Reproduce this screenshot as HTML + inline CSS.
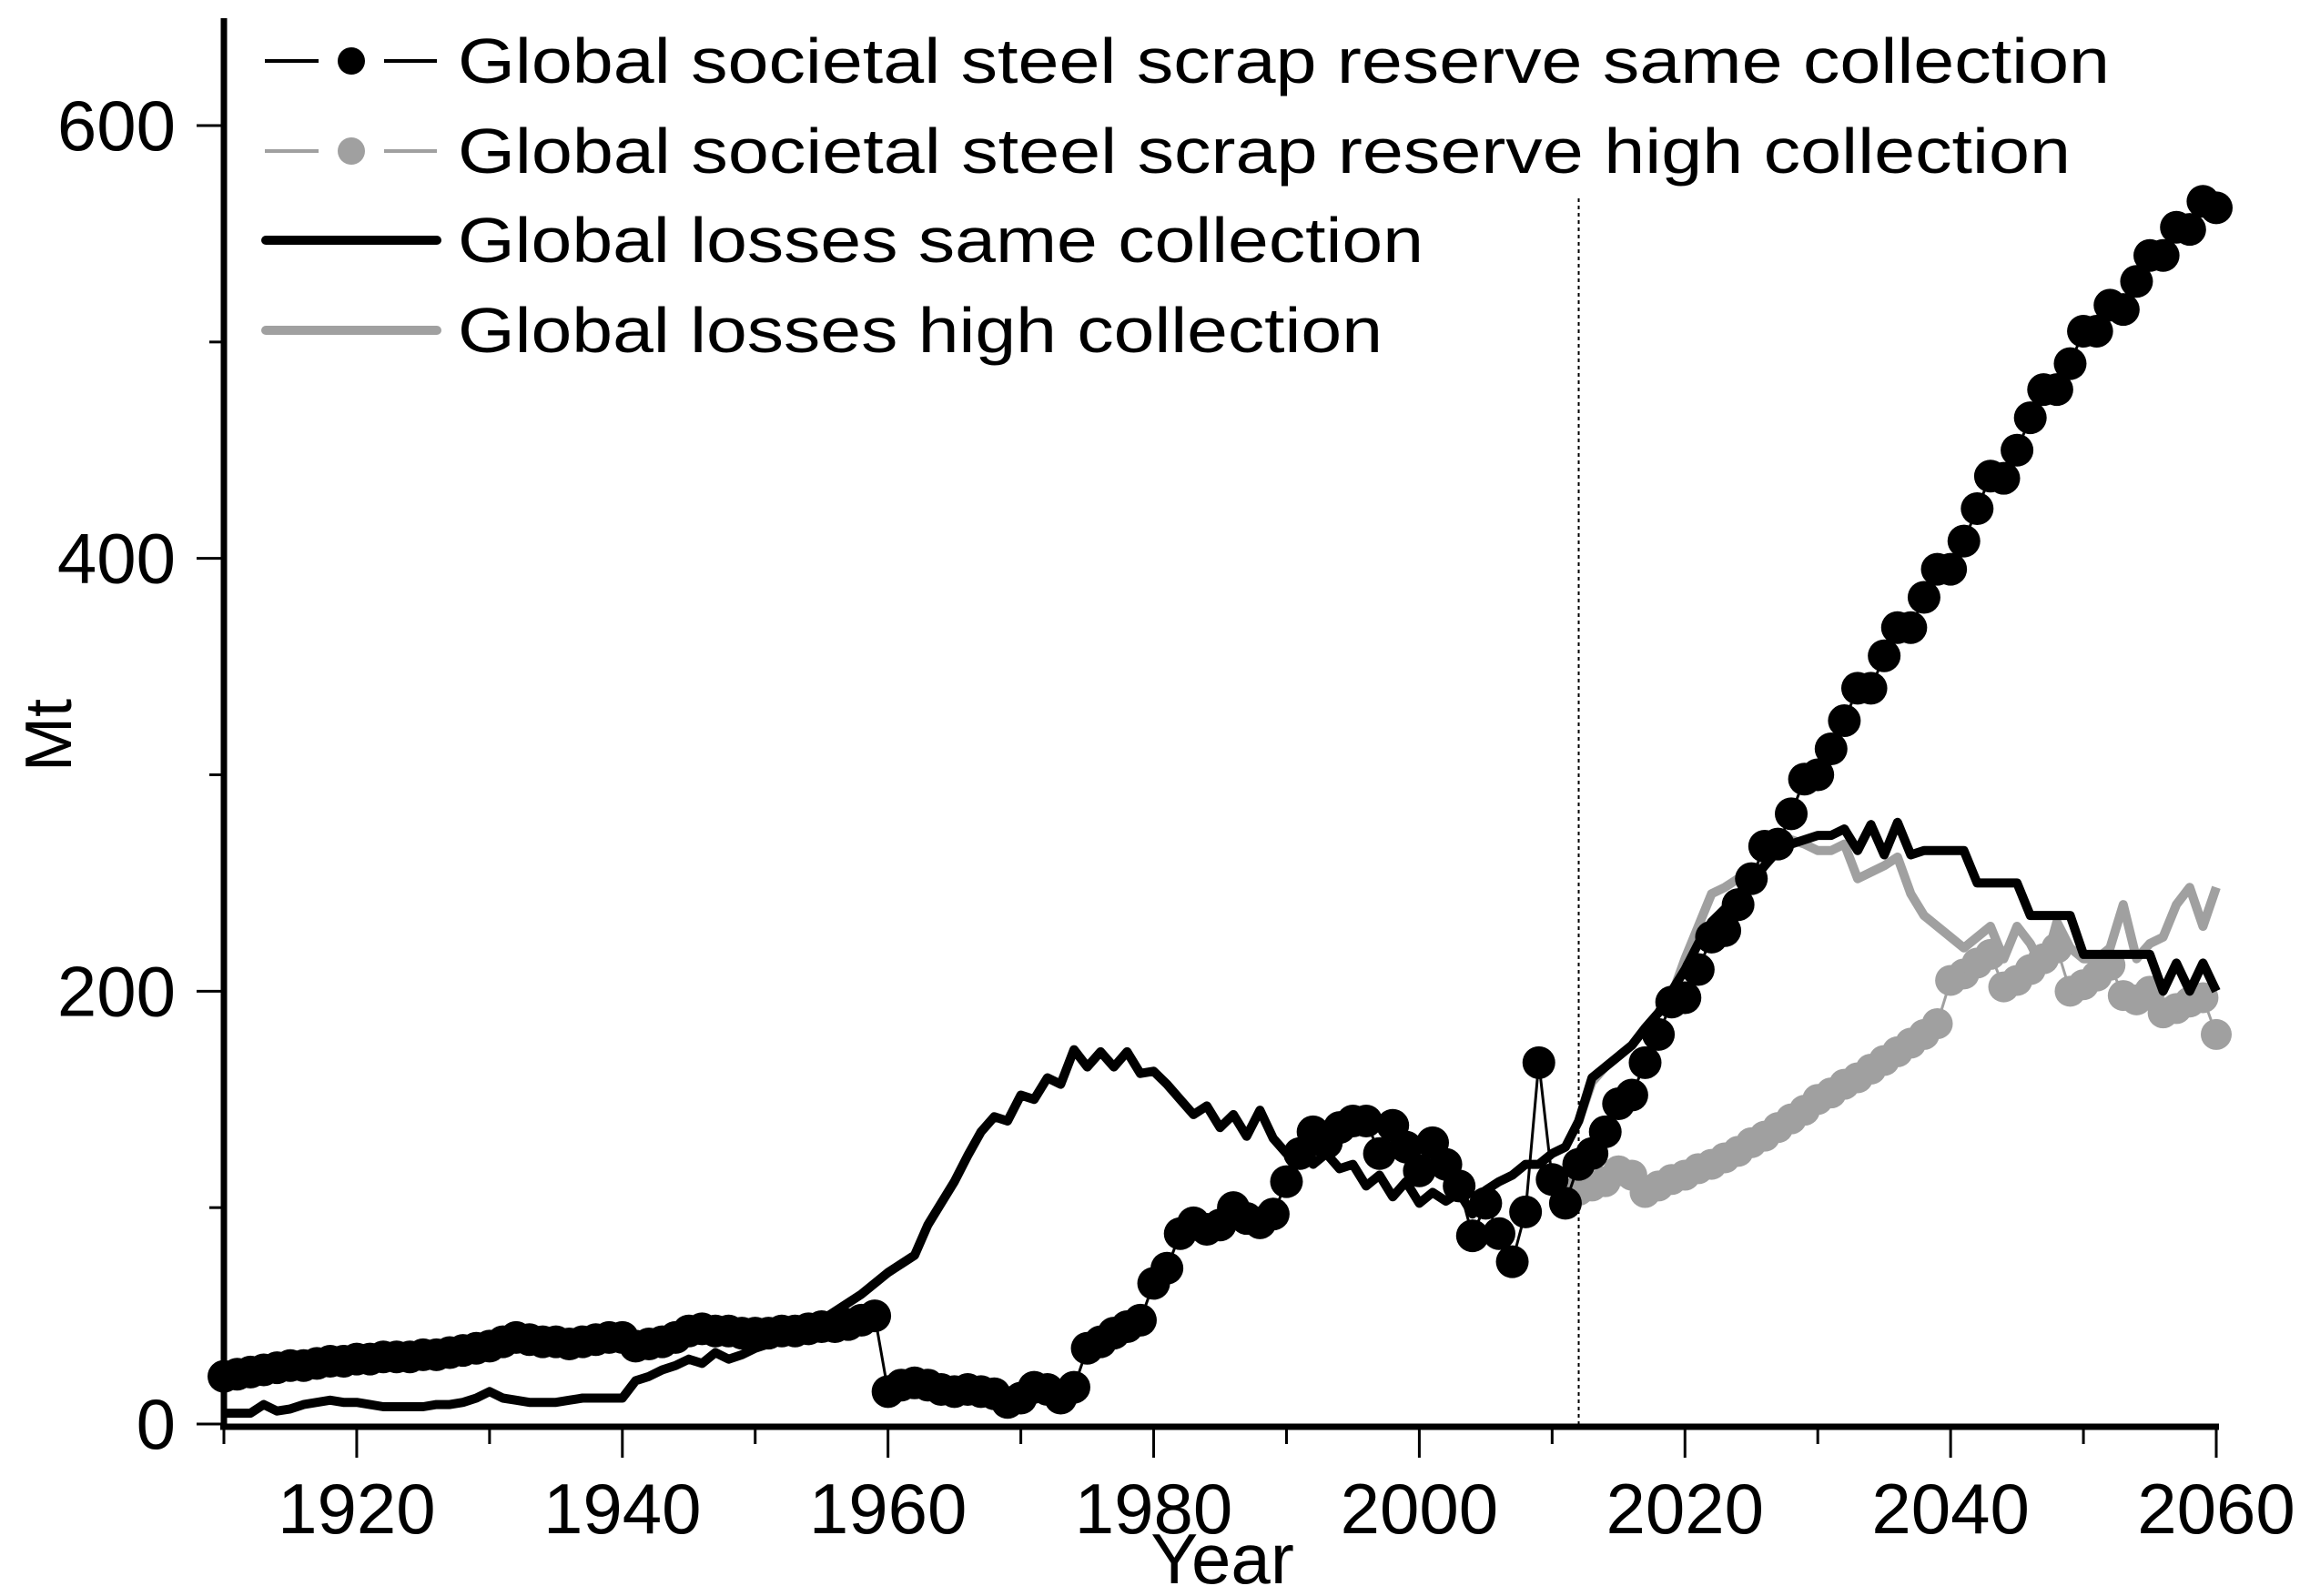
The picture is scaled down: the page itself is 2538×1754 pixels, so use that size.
<!DOCTYPE html>
<html><head><meta charset="utf-8"><style>
html,body{margin:0;padding:0;background:#fff}
svg{display:block;font-family:"Liberation Sans",Arial,sans-serif}
</style></head><body>
<svg id="chart" width="2538" height="1754" viewBox="0 0 2538 1754" xmlns="http://www.w3.org/2000/svg">
<g id="plot"></g>
</svg>
<script>
const years1 = [];for(let y=1910;y<=2060;y++)years1.push(y);
const reserveSame = [22,23,24,25,26,27,27,28,29,29,30,30,31,31,31,32,32,33,34,35,36,38,40,39,38,38,37,38,39,40,40,36,37,38,40,43,44,43,43,42,42,42,43,43,44,45,45,46,48,50,15,18,19,18,16,15,16,15,14,10,12,17,16,12,17,35,38,42,45,48,65,72,88,93,90,92,100,95,93,97,112,125,135,130,137,140,140,125,138,128,117,130,120,110,87,102,88,75,98,167,113,102,120,125,135,148,152,167,180,195,197,210,225,228,240,252,267,268,282,298,300,312,325,340,340,355,368,368,382,395,395,408,423,438,437,450,465,478,478,490,505,505,517,515,528,540,540,553,552,565,562];
const years2 = [];for(let y=2012;y<=2060;y++)years2.push(y);
const reserveHigh = [108,110,112,117,115,107,110,113,115,118,120,123,126,130,133,137,141,145,150,153,157,160,164,168,172,176,180,185,205,208,213,217,202,205,210,215,220,200,203,207,212,198,196,200,190,192,195,197,180];
const lossesSame = [5,5,5,9,6,7,9,10,11,10,10,9,8,8,8,8,9,9,10,12,15,12,11,10,10,10,11,12,12,12,12,20,22,25,27,30,28,33,30,32,35,37,40,42,44,48,52,56,60,65,70,74,78,92,102,112,124,135,142,140,152,150,160,157,173,165,172,165,172,162,163,157,150,143,147,137,143,133,145,132,125,128,120,125,118,120,110,115,105,112,102,107,103,107,97,108,112,115,120,120,125,128,140,160,165,170,175,183,190,200,210,222,232,238,245,250,258,265,268,270,272,272,275,265,277,263,278,263,265,265,265,265,250,250,250,250,235,235,235,235,217,217,217,217,217,217,200,213,200,213,200];
const lossesHigh = [140,158,165,170,175,183,190,198,215,230,245,248,252,255,258,265,270,268,265,265,268,252,255,258,262,245,235,230,225,220,225,230,215,230,222,210,232,220,215,215,220,240,215,222,225,240,248,230,248];
const yTicks = [0,200,400,600];
const xTicks = [1920,1940,1960,1980,2000,2020,2040,2060];

const NS="http://www.w3.org/2000/svg";
const X0=246, X1=2435, Y0=1565, PPV=2.3783;
const xs = y => X0+(y-1910)*(X1-X0)/150;
const ys = v => Y0-v*PPV;
const plot=document.getElementById('plot');
function mk(tag,attrs,parent){const e=document.createElementNS(NS,tag);for(const k in attrs)e.setAttribute(k,attrs[k]);(parent||plot).appendChild(e);return e;}
function pts(xa,va){return xa.map((y,i)=>xs(y).toFixed(1)+','+ys(va[i]).toFixed(1)).join(' ');}

let e=mk('line',{x1:xs(2012),x2:xs(2012),y1:218,y2:Y0,stroke:'#000','stroke-width':2,'stroke-dasharray':'4 4'});



e=mk('polyline',{points:pts(years2,lossesHigh),fill:'none',stroke:'#a0a0a0','stroke-width':10,'stroke-linejoin':'round'});


e=mk('polyline',{points:pts(years2,reserveHigh),fill:'none',stroke:'#a0a0a0','stroke-width':3});


const gH=mk('g',{fill:'#a0a0a0'});


years2.forEach((y,i)=>{const c=mk('circle',{cx:xs(y),cy:ys(reserveHigh[i]),r:17},gH);

});
e=mk('polyline',{points:pts(years1,lossesSame),fill:'none',stroke:'#000','stroke-width':10,'stroke-linejoin':'round'});


e=mk('polyline',{points:pts(years1,reserveSame),fill:'none',stroke:'#000','stroke-width':3});


const gS=mk('g',{fill:'#000'});


years1.forEach((y,i)=>{const c=mk('circle',{cx:xs(y),cy:ys(reserveSame[i]),r:18},gS);

});

mk('rect',{x:0,y:Y0+3,width:2538,height:200,fill:'#fff'});
e=mk('line',{x1:X0,x2:X0,y1:20,y2:Y0+6,stroke:'#000','stroke-width':7});


e=mk('line',{x1:X0-4,x2:X1+3,y1:Y0+3,y2:Y0+3,stroke:'#000','stroke-width':7});


for(let v=0;v<=600;v+=100){const maj=v%200===0;
 e=mk('line',{x1:X0-(maj?30:16),x2:X0,y1:ys(v),y2:ys(v),stroke:'#000','stroke-width':3});
 
 }
yTicks.forEach(v=>{e=mk('text',{x:193,y:ys(v)+27,'font-size':78,'text-anchor':'end'});e.textContent=v;
 
 });
for(let y=1910;y<=2060;y+=10){const maj=(y%20===0);
 e=mk('line',{x1:xs(y),x2:xs(y),y1:Y0,y2:Y0+(maj?37:22),stroke:'#000','stroke-width':3});
 
 }
xTicks.forEach(y=>{e=mk('text',{x:xs(y),y:1685,'font-size':78,'text-anchor':'middle'});e.textContent=y;
 
 });
e=mk('text',{x:1343,y:1740,'font-size':78,'text-anchor':'middle'});e.textContent='Year';


e=mk('text',{x:78,y:808,'font-size':72,'text-anchor':'middle',transform:'rotate(-90 78 808)'});e.textContent='Mt';



const leg=mk('g',{});


const L=[
 {t:'Global societal steel scrap reserve same collection',c:'#000',dot:true,y:67,w:1815},
 {t:'Global societal steel scrap reserve high collection',c:'#a0a0a0',dot:true,y:166,w:1772},
 {t:'Global losses same collection',c:'#000',dot:false,y:264,w:1061},
 {t:'Global losses high collection',c:'#a0a0a0',dot:false,y:363,w:1016}];
L.forEach(o=>{const g=mk('g',{},leg);
 
 
 if(o.dot){mk('line',{x1:291,x2:350,y1:o.y,y2:o.y,stroke:o.c,'stroke-width':4},g);
  mk('line',{x1:422,x2:480,y1:o.y,y2:o.y,stroke:o.c,'stroke-width':4},g);
  mk('circle',{cx:386,cy:o.y,r:15,fill:o.c},g);}
 else mk('line',{x1:292,x2:480,y1:o.y,y2:o.y,stroke:o.c,'stroke-width':10,'stroke-linecap':'round'},g);
 const t=mk('text',{x:503,y:o.y+24,'font-size':70,textLength:o.w,lengthAdjust:'spacingAndGlyphs'},g);t.textContent=o.t;});
</script>
</body></html>
